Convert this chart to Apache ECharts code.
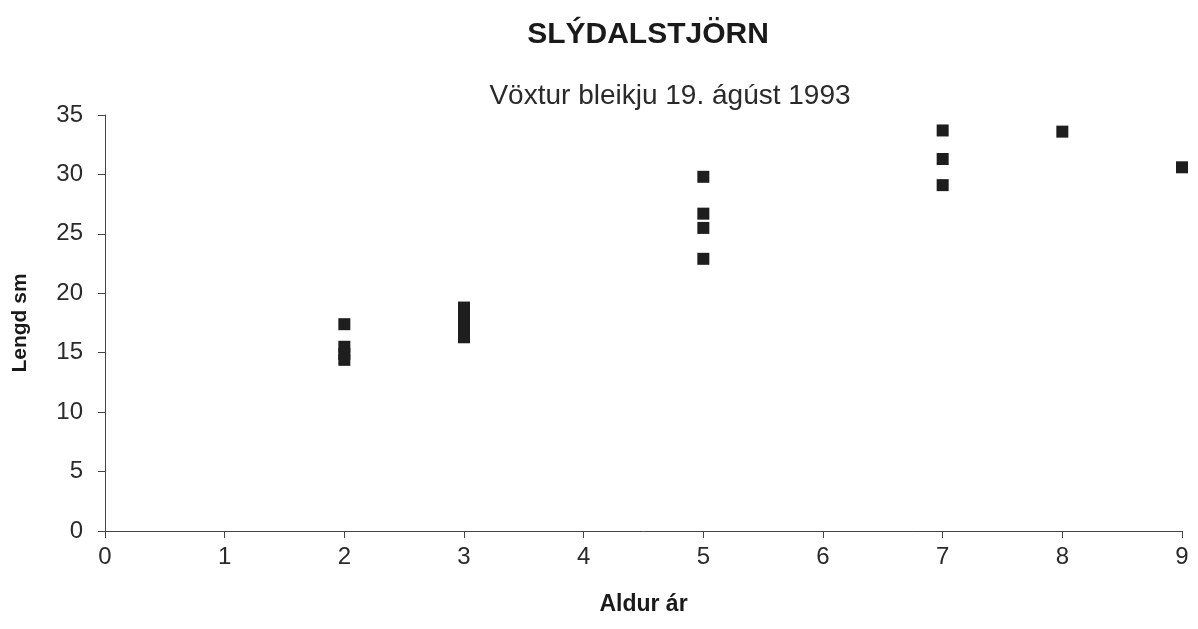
<!DOCTYPE html>
<html>
<head>
<meta charset="utf-8">
<script src="https://cdn.jsdelivr.net/npm/echarts@6/dist/echarts.min.js"></script>
<style>
html, body { margin: 0; padding: 0; background: #fff; }
#chart { width: 1198px; height: 629px; }
</style>
</head>
<body>
<div id="chart"></div>
<script>
// aldur (ár) og lengd (sm), lesið af myndinni
const age2 = [17.4, 15.5, 14.9, 14.4]
const age3 = [18.8, 18.2, 17.6, 17.2, 16.3]
const age5 = [29.8, 26.7, 25.5, 22.9]
const age7 = [33.7, 31.3, 29.1]
const age8 = [33.6]
const age9 = [30.6]

const groups = [[2, age2], [3, age3], [5, age5], [7, age7], [8, age8], [9, age9]]
const points = []
groups.forEach(([age, lengths]) => {
	lengths.forEach(len => points.push([age, len]))
})

const font = 'Liberation Sans, Arial, sans-serif'
const chart = echarts.init(document.getElementById('chart'))

chart.setOption({
	animation: false,
	title: [
		{
			text: 'SLÝDALSTJÖRN',
			left: 643,
			top: 15,
			textAlign: 'center',
			textStyle: { fontFamily: font, fontSize: 30, fontWeight: 'bold', color: '#1a1a1a' }
		},
		{
			text: 'Vöxtur bleikju 19. ágúst 1993',
			left: 665,
			top: 77,
			textAlign: 'center',
			textStyle: { fontFamily: font, fontSize: 28, fontWeight: 'normal', color: '#2a2a2a' }
		}
	],
	grid: {
		left: 105,
		right: 16,
		top: 115,
		bottom: 98
	},
	xAxis: {
		type: 'value',
		min: 0,
		max: 9,
		interval: 1,
		name: 'Aldur ár',
		nameLocation: 'middle',
		nameGap: 62,
		nameTextStyle: { fontFamily: font, fontSize: 23, fontWeight: 'bold', color: '#1a1a1a' },
		axisLine: { lineStyle: { color: '#444', width: 1 } },
		axisTick: { show: true, length: 7, lineStyle: { color: '#444' } },
		axisLabel: { fontFamily: font, fontSize: 24, color: '#2a2a2a', margin: 14 },
		splitLine: { show: false }
	},
	yAxis: {
		type: 'value',
		min: 0,
		max: 35,
		interval: 5,
		name: 'Lengd sm',
		nameLocation: 'middle',
		nameGap: 74,
		nameTextStyle: { fontFamily: font, fontSize: 21, fontWeight: 'bold', color: '#1a1a1a' },
		axisLine: { show: true, lineStyle: { color: '#444', width: 1 } },
		axisTick: { show: true, length: 7, lineStyle: { color: '#444' } },
		axisLabel: { fontFamily: font, fontSize: 24, color: '#2a2a2a', margin: 22 },
		splitLine: { show: false }
	},
	series: [
		{
			type: 'scatter',
			symbol: 'rect',
			symbolSize: 12,
			itemStyle: { color: '#1e1e1e', opacity: 1 },
			data: points
		}
	]
})
</script>
</body>
</html>
